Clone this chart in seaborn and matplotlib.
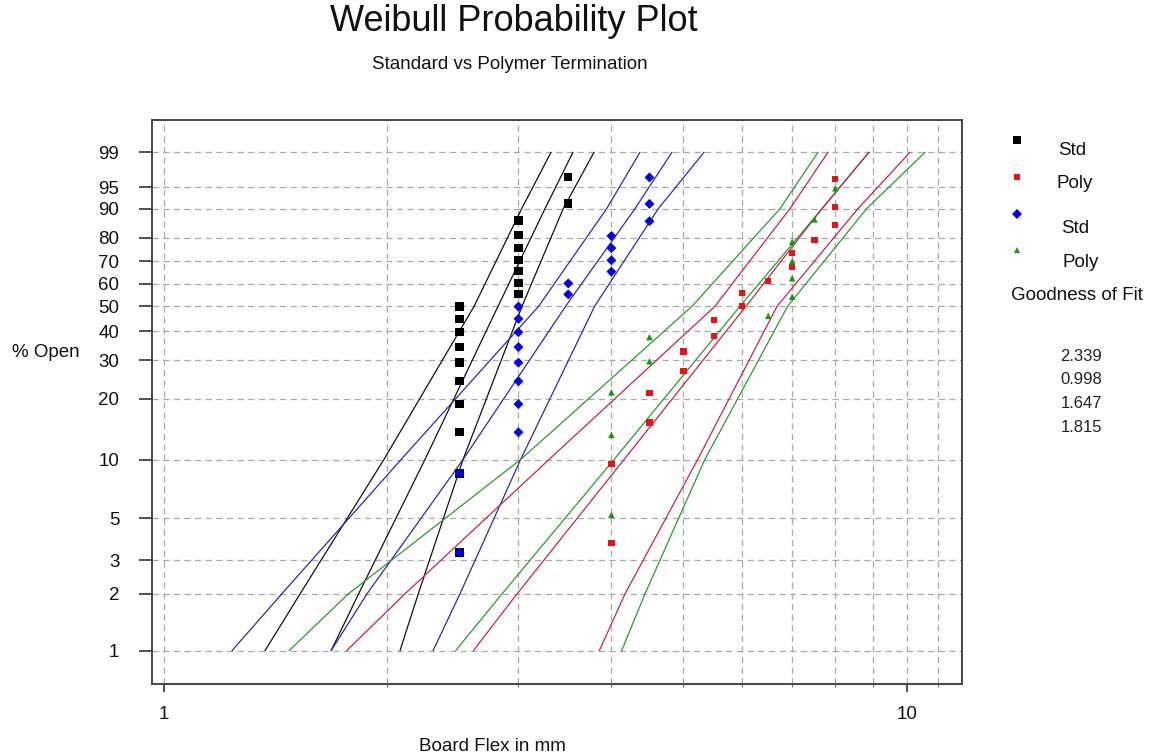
import numpy as np
import pandas as pd
import matplotlib
matplotlib.use("Agg")
import matplotlib.pyplot as plt
import seaborn as sns
from matplotlib.lines import Line2D
from matplotlib.ticker import FixedLocator, NullLocator, NullFormatter

# ---------------- data ----------------
std1_x = [2.5, 2.5, 2.5, 2.5, 2.5, 2.5, 2.5, 2.5, 2.5, 2.5, 3, 3, 3, 3, 3, 3, 3, 3.5, 3.5]
std1_p = [3.3, 8.5, 13.7, 18.8, 24.1, 29.3, 34.3, 39.6, 44.8, 49.9, 55.4, 60.2, 65.8, 70.6, 75.9, 81.0, 86.3, 91.4, 96.7]

poly1_x = [4, 4, 4.5, 4.5, 5, 5, 5.5, 5.5, 6, 6, 6.5, 7, 7, 7.5, 8, 8, 8]
poly1_p = [3.7, 9.5, 15.3, 21.2, 26.9, 32.8, 38.3, 44.3, 50.1, 55.9, 61.3, 67.5, 73.6, 79.1, 84.7, 90.5, 96.4]

std2_x = [2.5, 2.5, 3, 3, 3, 3, 3, 3, 3, 3, 3.5, 3.5, 4, 4, 4, 4, 4.5, 4.5, 4.5]
std2_p = [3.3, 8.5, 13.7, 18.8, 24.1, 29.3, 34.3, 39.6, 44.8, 49.9, 55.2, 60.1, 65.4, 70.5, 75.8, 80.7, 86.1, 91.3, 96.6]

poly2_x = [4, 4, 4, 4.5, 4.5, 6.5, 7, 7, 7, 7, 7.5, 8]
poly2_p = [5.2, 13.3, 21.4, 29.7, 37.8, 46.0, 54.2, 62.4, 70.1, 78.4, 86.7, 94.8]

# fitted lines and confidence bounds: board flex at these % levels
line_p = [1, 2, 10, 50, 90, 99]
std1_lower = [1.369, 1.526, 1.978, 2.615, 3.030, 3.318]
std1_fit = [1.680, 1.829, 2.246, 2.816, 3.257, 3.551]
std1_upper = [2.079, 2.200, 2.527, 3.033, 3.446, 3.790]

std2_lower = [1.236, 1.442, 2.086, 3.193, 3.942, 4.370]
std2_fit = [1.680, 1.877, 2.527, 3.471, 4.303, 4.825]
std2_upper = [2.303, 2.503, 3.020, 3.797, 4.625, 5.328]

poly2_lower = [1.475, 1.772, 3.020, 5.134, 6.741, 7.581]
poly2_fit = [2.470, 2.851, 4.032, 5.955, 7.676, 8.876]
poly2_upper = [4.129, 4.438, 5.341, 6.901, 8.813, 10.56]

poly1_lower = [1.763, 2.111, 3.297, 5.511, 6.952, 7.820]
poly1_fit = [2.609, 2.987, 4.159, 6.066, 7.676, 8.876]
poly1_upper = [3.853, 4.172, 5.224, 6.679, 8.580, 10.08]

legend_labels = ["Std", "Poly", "Std", "Poly"]
goodness_of_fit = ["2.339", "0.998", "1.647", "1.815"]

y_ticks = [1, 2, 3, 5, 10, 20, 30, 40, 50, 60, 70, 80, 90, 95, 99]
x_ticks = [1, 10]

# ---------------- frames ----------------
pts = pd.concat([
    pd.DataFrame({"x": std1_x, "p": std1_p, "series": "std1"}),
    pd.DataFrame({"x": poly1_x, "p": poly1_p, "series": "poly1"}),
    pd.DataFrame({"x": std2_x, "p": std2_p, "series": "std2"}),
    pd.DataFrame({"x": poly2_x, "p": poly2_p, "series": "poly2"}),
], ignore_index=True)

curves = []
for name, arrs in [("std1", (std1_lower, std1_fit, std1_upper)),
                   ("std2", (std2_lower, std2_fit, std2_upper)),
                   ("poly2", (poly2_lower, poly2_fit, poly2_upper)),
                   ("poly1", (poly1_lower, poly1_fit, poly1_upper))]:
    for kind, xs in zip(["lower", "fit", "upper"], arrs):
        curves.append(pd.DataFrame({"x": xs, "p": line_p, "series": name, "curve": name + kind}))
lines = pd.concat(curves, ignore_index=True)

marker_col = {"std1": "#000000", "poly1": "#ee1111", "std2": "#0000ee", "poly2": "#119911"}
line_col = {"std1": "#111111", "poly1": "#cc2244", "std2": "#2a2ab0", "poly2": "#2a9a2a"}
markers = {"std1": "s", "poly1": "s", "std2": "D", "poly2": "^"}
sizes = {"std1": 36, "poly1": 20, "std2": 26, "poly2": 22}

# ---------------- figure ----------------
sns.set_theme(style="white")
plt.rcParams["font.family"] = ["Liberation Sans", "DejaVu Sans"]

W, H = 1160, 756
fig = plt.figure(figsize=(W / 100, H / 100), dpi=100)
ax = fig.add_axes([152 / W, 1 - 684 / H, (962 - 152) / W, (684 - 120) / H])


def fwd(p):
    p = np.clip(np.asarray(p, dtype=float), 1e-6, 100 - 1e-9)
    return np.log(-np.log(1 - p / 100.0))


def inv(w):
    w = np.clip(np.asarray(w, dtype=float), -30, 3.5)
    return 100.0 * (1 - np.exp(-np.exp(w)))


ax.set_xscale("log")
ax.set_yscale("function", functions=(fwd, inv))
ax.set_xlim(0.965, 11.84)
ax.set_ylim(0.665, 99.894)

sns.lineplot(data=lines, x="x", y="p", hue="series", units="curve", estimator=None,
             sort=False, palette=line_col, legend=False, linewidth=0.9, ax=ax)
sns.scatterplot(data=pts, x="x", y="p", hue="series", style="series", size="series",
                palette=marker_col, markers=markers, sizes=sizes, linewidth=0,
                legend=False, ax=ax, zorder=5)

ax.set_xlim(0.965, 11.84)
ax.set_ylim(0.665, 99.894)

# ticks
ax.yaxis.set_major_locator(FixedLocator(y_ticks))
ax.yaxis.set_minor_locator(NullLocator())
ax.set_yticklabels([str(t) for t in y_ticks])
ax.xaxis.set_major_locator(FixedLocator(x_ticks))
ax.xaxis.set_minor_locator(FixedLocator([2, 3, 4, 5, 6, 7, 8, 9, 11]))
ax.xaxis.set_minor_formatter(NullFormatter())
ax.set_xticklabels([str(t) for t in x_ticks])
ax.tick_params(axis="y", which="major", direction="out", length=9.5, width=1.1,
               color="#222222", pad=14, labelsize=13.5, labelcolor="#111111", left=True)
ax.tick_params(axis="x", which="major", direction="out", length=6, width=1.1,
               color="#222222", pad=10, labelsize=13.5, labelcolor="#111111", bottom=True)
ax.tick_params(axis="x", which="minor", direction="out", length=2.5, width=0.8,
               color="#666666", bottom=True)
ax.set_xlabel("")
ax.set_ylabel("")

# grid
ax.grid(False)
ax.grid(True, which="major", axis="y", color="#aaaaaa", linestyle=(0, (5, 3.5)), linewidth=0.9)
ax.grid(True, which="both", axis="x", color="#aaaaaa", linestyle=(0, (5, 3.5)), linewidth=0.9)
ax.set_axisbelow(True)

for s in ax.spines.values():
    s.set_visible(True)
    s.set_color("#444444")
    s.set_linewidth(1.4)

# titles and axis labels
fig.text(514 / W, 1 - 31 / H, "Weibull Probability Plot", ha="center", va="baseline",
         fontsize=26, color="#111111")
fig.text(510 / W, 1 - 69 / H, "Standard vs Polymer Termination", ha="center", va="baseline",
         fontsize=13.5, color="#111111")
fig.text(12 / W, 1 - 357 / H, "% Open", ha="left", va="baseline", fontsize=13.5, color="#111111")
fig.text(492 / W, 1 - 751 / H, "Board Flex in mm", ha="center", va="baseline", fontsize=13.5,
         color="#111111")

# legend
leg_marker_y = [140, 177, 214, 250]
leg_label_xy = [(1058, 155), (1057, 188), (1061, 233), (1063, 267)]
order = ["std1", "poly1", "std2", "poly2"]
for key, my, (lx, ly), lab in zip(order, leg_marker_y, leg_label_xy, legend_labels):
    ms = {"std1": 6.0, "poly1": 4.5, "std2": 5.0, "poly2": 5.0}[key]
    fig.add_artist(Line2D([1016.5 / W], [1 - my / H], marker=markers[key], markersize=ms,
                          color=marker_col[key], markeredgewidth=0, linestyle="none",
                          transform=fig.transFigure))
    fig.text(lx / W, 1 - ly / H, lab, ha="left", va="baseline", fontsize=13.5, color="#111111")
fig.text(1011 / W, 1 - 300 / H, "Goodness of Fit", ha="left", va="baseline", fontsize=13.5,
         color="#111111")
for i, val in enumerate(goodness_of_fit):
    fig.text(1102 / W, 1 - (361 + 23.5 * i) / H, val, ha="right", va="baseline", fontsize=12,
             color="#222222")

fig.savefig("out.png", dpi=100, facecolor="white")
